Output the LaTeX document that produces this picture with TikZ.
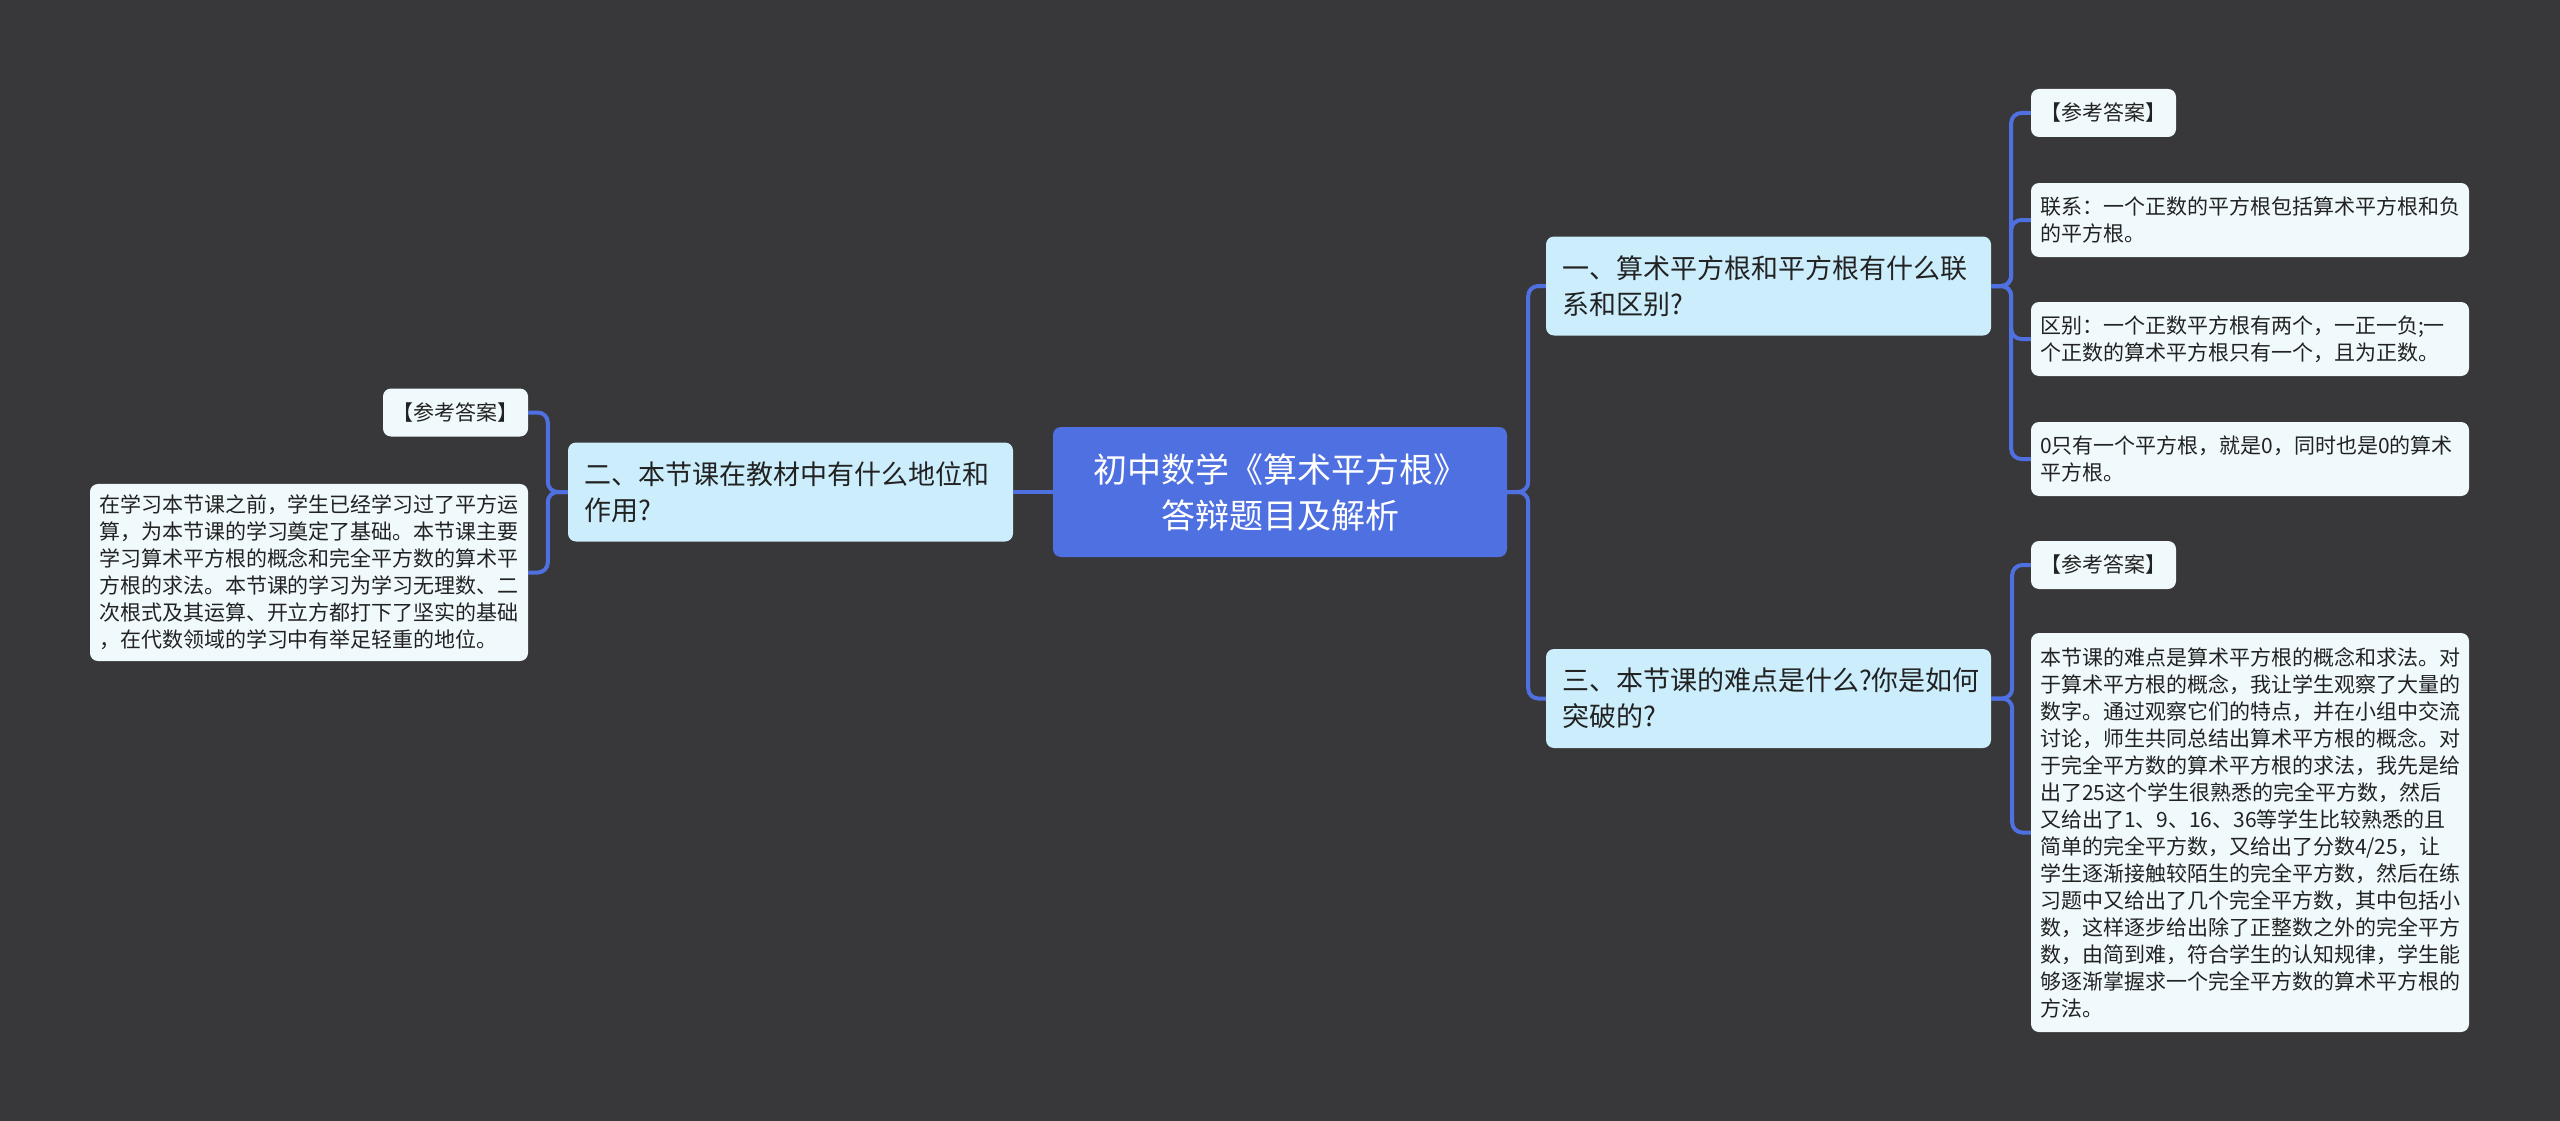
\documentclass[tikz,border=0pt]{standalone}
\usepackage{fontspec}
\setmainfont{Noto Sans CJK SC}
\usetikzlibrary{positioning}
\definecolor{mmbg}{RGB}{56,55,57}
\definecolor{mmblue}{RGB}{79,112,225}
\definecolor{mmlightblue}{RGB}{204,238,252}
\definecolor{mmpale}{RGB}{240,250,253}
\definecolor{mmtext}{RGB}{34,34,34}

\begin{document}
\begin{tikzpicture}[
    x=1pt, y=-1pt,
    root/.style={
        fill=mmblue,
        text=white,
        rounded corners=8pt,
        minimum width=454pt,
        minimum height=130pt,
        align=center,
        font=\fontsize{34}{46}\selectfont
    },
    topic/.style={
        fill=mmlightblue,
        text=mmtext,
        rounded corners=8pt,
        minimum width=445pt,
        minimum height=99pt,
        text width=413pt,
        inner xsep=16pt,
        align=left,
        font=\fontsize{27}{36}\selectfont
    },
    tag/.style={
        fill=mmpale,
        text=mmtext,
        rounded corners=8pt,
        minimum width=145pt,
        minimum height=48pt,
        inner sep=0pt,
        font=\fontsize{21}{27}\selectfont
    },
    leaf/.style={
        fill=mmpale,
        text=mmtext,
        rounded corners=8pt,
        text width=420pt,
        inner xsep=9pt,
        inner ysep=11pt,
        align=left,
        font=\fontsize{21}{27}\selectfont
    },
    link/.style={draw=mmblue, line width=4pt, rounded corners=10pt}
]

% Dark canvas; it also fixes the page size.
\fill[mmbg] (0,0) rectangle (2560,1121);

% Central topic and the three questions.
\node[root] (root) at (1280,492) {初中数学《算术平方根》\\答辩题目及解析};
\node[topic] (q2) at (790.5,492) {二、本节课在教材中有什么地位和\\作用?};
\node[topic] (q1) at (1768.5,286) {一、算术平方根和平方根有什么联\\系和区别?};
\node[topic] (q3) at (1768.5,698.5) {三、本节课的难点是什么?你是如何\\突破的?};

% Left branch.
\node[tag] (tagL) at (455.5,412.5) {【参考答案】};
\node[leaf] (leafL) at (309,572.5)
    {在学习本节课之前，学生已经学习过了平方运\\
     算，为本节课的学习奠定了基础。本节课主要\\
     学习算术平方根的概念和完全平方数的算术平\\
     方根的求法。本节课的学习为学习无理数、二\\
     次根式及其运算、开立方都打下了坚实的基础\\
     ，在代数领域的学习中有举足轻重的地位。};

% Upper right branch.
\node[tag] (tag1) at (2103.5,113) {【参考答案】};
\node[leaf, minimum height=74pt] (relation) at (2250,220)
    {联系：一个正数的平方根包括算术平方根和负\\的平方根。};
\node[leaf, minimum height=74pt] (difference) at (2250,339)
    {区别：一个正数平方根有两个，一正一负;一\\个正数的算术平方根只有一个，且为正数。};
\node[leaf, minimum height=74pt] (zero) at (2250,459)
    {0只有一个平方根，就是0，同时也是0的算术\\平方根。};

% Lower right branch.
\node[tag] (tag3) at (2103.5,565) {【参考答案】};
\node[leaf, minimum height=399pt] (hard) at (2250,832.5)
    {本节课的难点是算术平方根的概念和求法。对\\
     于算术平方根的概念，我让学生观察了大量的\\
     数字。通过观察它们的特点，并在小组中交流\\
     讨论，师生共同总结出算术平方根的概念。对\\
     于完全平方数的算术平方根的求法，我先是给\\
     出了25这个学生很熟悉的完全平方数，然后\\
     又给出了1、9、16、36等学生比较熟悉的且\\
     简单的完全平方数，又给出了分数4/25，让\\
     学生逐渐接触较陌生的完全平方数，然后在练\\
     习题中又给出了几个完全平方数，其中包括小\\
     数，这样逐步给出除了正整数之外的完全平方\\
     数，由简到难，符合学生的认知规律，学生能\\
     够逐渐掌握求一个完全平方数的算术平方根的\\
     方法。};

% Connectors.
\draw[link] (root.west) -- (q2.east);
\foreach \c in {q1,q3} {
    \draw[link] (root.east) -- ++(21,0) |- (\c.west);
}
\foreach \c in {tagL,leafL} {
    \draw[link] (q2.west) -- ++(-20,0) |- (\c.east);
}
\foreach \c in {tag1,relation,difference,zero} {
    \draw[link] (q1.east) -- ++(20,0) |- (\c.west);
}
\foreach \c in {tag3,hard} {
    \draw[link] (q3.east) -- ++(21,0) |- (\c.west);
}

\end{tikzpicture}
\end{document}
